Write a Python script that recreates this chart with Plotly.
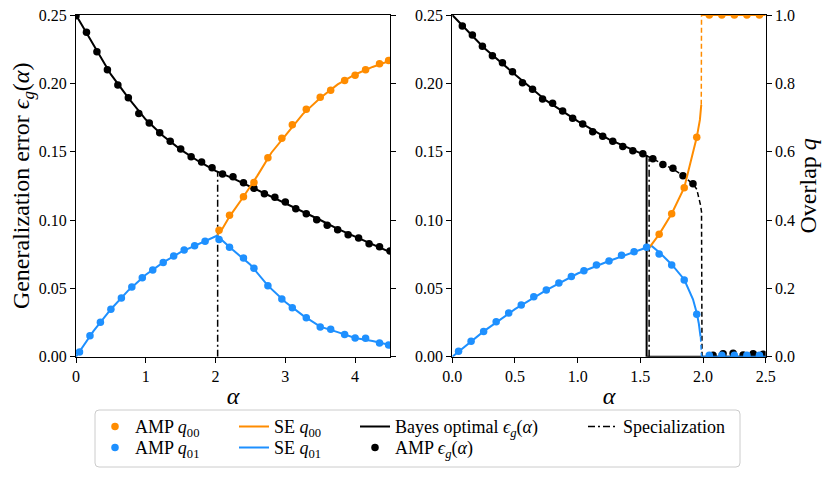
import plotly.graph_objects as go

W, H = 830, 477
OFF = 8  # page offset of the figure inside the browser window

# ---------------- data: left panel ----------------
amp_eps_left_alpha = [0, 0.15, 0.30, 0.45, 0.60, 0.75, 0.90, 1.05, 1.20, 1.35, 1.50, 1.65, 1.80, 1.95,
                      2.10, 2.25, 2.40, 2.55, 2.70, 2.85, 3.00, 3.15, 3.30, 3.45, 3.60, 3.75, 3.90,
                      4.05, 4.20, 4.35, 4.50]
amp_eps_left = [0.2495, 0.2373, 0.2232, 0.2100, 0.1988, 0.1895, 0.1780, 0.1710, 0.1639, 0.1576, 0.1520,
                0.1463, 0.1424, 0.1383, 0.1337, 0.1317, 0.1273, 0.1232, 0.1193, 0.1166, 0.1132, 0.1083,
                0.1046, 0.1002, 0.0961, 0.0929, 0.0893, 0.0868, 0.0827, 0.0805, 0.0773]

bayes_left_alpha = [0, 0.25, 0.5, 0.75, 1.0, 1.25, 1.5, 1.75, 2.0, 2.25, 2.5, 2.75, 3.0, 3.25, 3.5,
                    3.75, 4.0, 4.25, 4.5]
bayes_left = [0.25, 0.2285, 0.2065, 0.1893, 0.1735, 0.1615, 0.1515, 0.1432, 0.1360, 0.1305, 0.1245,
              0.1182, 0.1125, 0.1065, 0.1000, 0.0935, 0.0878, 0.0820, 0.0765]

amp_q01_left_alpha = [0.05, 0.2, 0.35, 0.5, 0.65, 0.8, 0.95, 1.1, 1.25, 1.4, 1.55, 1.7, 1.85, 2.05,
                      2.2, 2.4, 2.55, 2.75, 2.95, 3.1, 3.3, 3.5, 3.65, 3.85, 4.0, 4.15, 4.35, 4.48]
amp_q01_left = [0.014, 0.061, 0.101, 0.139, 0.172, 0.204, 0.231, 0.254, 0.276, 0.295, 0.312, 0.325,
                0.338, 0.343, 0.320, 0.289, 0.259, 0.208, 0.169, 0.143, 0.114, 0.087, 0.080, 0.065,
                0.055, 0.054, 0.040, 0.034]

amp_q00_left_alpha = [2.05, 2.2, 2.4, 2.55, 2.75, 2.95, 3.1, 3.3, 3.5, 3.65, 3.85, 4.0, 4.15, 4.35, 4.48]
amp_q00_left = [0.370, 0.414, 0.468, 0.510, 0.582, 0.639, 0.679, 0.724, 0.759, 0.780, 0.808, 0.824,
                0.840, 0.857, 0.867]

se_q01_left_alpha = [0, 0.25, 0.5, 0.75, 1.0, 1.25, 1.5, 1.75, 2.02, 2.25, 2.5, 2.75, 3.0, 3.25, 3.5,
                     3.75, 4.0, 4.25, 4.5]
se_q01_left = [0.0, 0.075, 0.139, 0.194, 0.240, 0.276, 0.306, 0.329, 0.354, 0.312, 0.269, 0.208, 0.160,
               0.121, 0.088, 0.072, 0.055, 0.046, 0.034]

se_q00_left_alpha = [2.02, 2.1, 2.2, 2.4, 2.6, 2.8, 3.0, 3.25, 3.5, 3.75, 4.0, 4.25, 4.5]
se_q00_left = [0.354, 0.375, 0.410, 0.468, 0.530, 0.597, 0.647, 0.710, 0.757, 0.797, 0.826, 0.848, 0.866]

spec_left_alpha = [2.03, 2.03]
spec_left_eps = [0.0, 0.1358]

# ---------------- data: right panel ----------------
amp_eps_right_alpha = [0.08, 0.16, 0.24, 0.32, 0.40, 0.48, 0.56, 0.64, 0.72, 0.80, 0.88, 0.96, 1.04,
                       1.12, 1.20, 1.28, 1.36, 1.44, 1.52, 1.60, 1.68, 1.76, 1.84, 1.92,
                       2.08, 2.16, 2.24, 2.32, 2.40, 2.48]
amp_eps_right = [0.2420, 0.2354, 0.2271, 0.2202, 0.2151, 0.2085, 0.2005, 0.1956, 0.1885, 0.1854,
                 0.1798, 0.1744, 0.1702, 0.1646, 0.1612, 0.1576, 0.1537, 0.1507, 0.1485, 0.1449,
                 0.1407, 0.1378, 0.1324, 0.1266,
                 0.0010, 0.0022, 0.0025, 0.0012, 0.0022, 0.0018]

bayes_right_alpha = [0, 0.25, 0.5, 0.75, 1.0, 1.25, 1.55, 1.55, 2.5]
bayes_right = [0.25, 0.2262, 0.2065, 0.1873, 0.1723, 0.1590, 0.1470, 0.0, 0.0]

meta_right_alpha = [1.55, 1.60, 1.68, 1.76, 1.84, 1.926, 1.95, 1.966, 1.980, 1.988, 1.992]
meta_right = [0.1470, 0.1447, 0.1410, 0.1373, 0.1325, 0.1257, 0.1225, 0.1171, 0.1110, 0.1060, 0.0]

spec_right_alpha = [1.57, 1.57]
spec_right_eps = [0.0, 0.145]

amp_q01_right_alpha = [0.05, 0.15, 0.25, 0.35, 0.45, 0.55, 0.65, 0.75, 0.85, 0.95, 1.05, 1.15, 1.25,
                       1.35, 1.45, 1.55, 1.65, 1.75, 1.85, 1.95, 2.05, 2.15, 2.25, 2.35, 2.45]
amp_q01_right = [0.0158, 0.045, 0.074, 0.1025, 0.128, 0.151, 0.1756, 0.195, 0.2157, 0.235, 0.2517,
                 0.268, 0.280, 0.2967, 0.3073, 0.320, 0.3005, 0.268, 0.2245, 0.124,
                 0.004, 0.004, 0.004, 0.004, 0.004]

amp_q00_right_alpha = [1.65, 1.75, 1.85, 1.95, 2.05, 2.15, 2.25, 2.35, 2.45]
amp_q00_right = [0.358, 0.4185, 0.4946, 0.642, 1.0, 1.0, 1.0, 1.0, 1.0]

se_q01_right_alpha = [0, 0.25, 0.5, 0.75, 1.0, 1.25, 1.5, 1.59, 1.65, 1.75, 1.85, 1.92, 1.95, 1.966, 1.980]
se_q01_right = [0.0, 0.074, 0.139, 0.195, 0.2435, 0.280, 0.313, 0.324, 0.306, 0.270, 0.226, 0.168,
                0.128, 0.098, 0.0585]
se_q01_jump_alpha = [1.980, 1.988]
se_q01_jump = [0.0585, 0.0]
se_q01_after_alpha = [1.988, 2.5]
se_q01_after = [0.0, 0.0]

se_q00_right_alpha = [1.567, 1.65, 1.75, 1.85, 1.95, 1.975, 1.986]
se_q00_right = [0.317, 0.358, 0.4185, 0.4946, 0.642, 0.693, 0.737]
se_q00_jump_alpha = [1.986, 1.988]
se_q00_jump = [0.737, 1.0]
se_q00_after_alpha = [1.988, 2.5]
se_q00_after = [1.0, 1.0]

# ---------------- styles ----------------
ORANGE = "#FF8C00"
BLUE = "#1E90FF"
BLACK = "black"
FONT = "Liberation Serif"
MS = 7.5
LW = 2
DASHDOT = "7px,3px,2px,3px"
DASHED = "5px,3px"

fig = go.Figure()

# left panel (these traces also provide the legend entries, one legend per entry)
fig.add_trace(go.Scatter(x=bayes_left_alpha, y=bayes_left, mode="lines", line=dict(color=BLACK, width=LW),
                         xaxis="x", yaxis="y", name="Bayes optimal <i>ϵ<sub>g</sub></i>(<i>α</i>)",
                         legend="legend5"))
fig.add_trace(go.Scatter(x=amp_eps_left_alpha, y=amp_eps_left, mode="markers",
                         marker=dict(color=BLACK, size=MS), xaxis="x", yaxis="y",
                         name="AMP <i>ϵ<sub>g</sub></i>(<i>α</i>)", legend="legend6"))
fig.add_trace(go.Scatter(x=spec_left_alpha, y=spec_left_eps, mode="lines",
                         line=dict(color=BLACK, width=1.5, dash=DASHDOT),
                         xaxis="x", yaxis="y", name="Specialization", legend="legend7"))
fig.add_trace(go.Scatter(x=se_q00_left_alpha, y=se_q00_left, mode="lines", line=dict(color=ORANGE, width=LW),
                         xaxis="x", yaxis="y2", name="SE <i>q</i><sub>00</sub>", legend="legend3"))
fig.add_trace(go.Scatter(x=se_q01_left_alpha, y=se_q01_left, mode="lines", line=dict(color=BLUE, width=LW),
                         xaxis="x", yaxis="y2", name="SE <i>q</i><sub>01</sub>", legend="legend4"))
fig.add_trace(go.Scatter(x=amp_q00_left_alpha, y=amp_q00_left, mode="markers",
                         marker=dict(color=ORANGE, size=MS), xaxis="x", yaxis="y2",
                         name="AMP <i>q</i><sub>00</sub>", legend="legend"))
fig.add_trace(go.Scatter(x=amp_q01_left_alpha, y=amp_q01_left, mode="markers",
                         marker=dict(color=BLUE, size=MS), xaxis="x", yaxis="y2",
                         name="AMP <i>q</i><sub>01</sub>", legend="legend2"))

# right panel
def add_r(x, y, yaxis, mode, color, dash=None, width=LW):
    kw = dict(x=x, y=y, xaxis="x2", yaxis=yaxis, mode=mode, showlegend=False, hoverinfo="x+y")
    if mode == "lines":
        kw["line"] = dict(color=color, width=width, dash=dash)
    else:
        kw["marker"] = dict(color=color, size=MS)
    fig.add_trace(go.Scatter(**kw))

add_r(bayes_right_alpha, bayes_right, "y3", "lines", BLACK)
add_r(meta_right_alpha, meta_right, "y3", "lines", BLACK, dash=DASHED, width=1.5)
add_r(spec_right_alpha, spec_right_eps, "y3", "lines", BLACK, dash=DASHDOT, width=1.5)
add_r(amp_eps_right_alpha, amp_eps_right, "y3", "markers", BLACK)
add_r(se_q01_right_alpha, se_q01_right, "y4", "lines", BLUE)
add_r(se_q01_jump_alpha, se_q01_jump, "y4", "lines", BLUE, dash=DASHED, width=1.5)
add_r(se_q01_after_alpha, se_q01_after, "y4", "lines", BLUE)
add_r(se_q00_right_alpha, se_q00_right, "y4", "lines", ORANGE)
add_r(se_q00_jump_alpha, se_q00_jump, "y4", "lines", ORANGE, dash=DASHED, width=1.5)
add_r(se_q00_after_alpha, se_q00_after, "y4", "lines", ORANGE)
add_r(amp_q00_right_alpha, amp_q00_right, "y4", "markers", ORANGE)
add_r(amp_q01_right_alpha, amp_q01_right, "y4", "markers", BLUE)

# ---------------- layout ----------------
def px_x(p):
    return (p - OFF) / W

def px_y(p):
    return 1 - (p - OFF) / H

ydom = [px_y(356.7), px_y(15)]
tickfont = dict(family=FONT, size=16, color="black")
titlefont = dict(family=FONT, size=24, color="black")

common = dict(showgrid=False, zeroline=False, showline=True, linecolor="black", linewidth=1,
              ticks="outside", ticklen=5, tickwidth=1, tickcolor="black", tickfont=tickfont,
              automargin=False, ticklabeloverflow="allow")

xa_title = dict(text="<i>α</i>", font=titlefont, standoff=3)
fig.update_layout(
    xaxis=dict(domain=[px_x(76), px_x(390)], range=[0, 4.5], tickvals=[0, 1, 2, 3, 4], anchor="y",
               mirror=True, title=xa_title, **common),
    yaxis=dict(domain=ydom, range=[0, 0.25], tickvals=[0, 0.05, 0.10, 0.15, 0.20, 0.25], tickformat=".2f",
               anchor="x",
               title=dict(text="Generalization error <i>ϵ<sub>g</sub></i>(<i>α</i>)", font=titlefont, standoff=9),
               **common),
    yaxis2=dict(range=[0, 1], tickvals=[0, 0.2, 0.4, 0.6, 0.8, 1.0], overlaying="y", side="right",
                anchor="x", showticklabels=False, **common),
    xaxis2=dict(domain=[px_x(452.3), px_x(765.7)], range=[0, 2.5], tickvals=[0, 0.5, 1.0, 1.5, 2.0, 2.5],
                tickformat=".1f", anchor="y3", mirror=True, title=xa_title, **common),
    yaxis3=dict(domain=ydom, range=[0, 0.25], tickvals=[0, 0.05, 0.10, 0.15, 0.20, 0.25], tickformat=".2f",
                anchor="x2", **common),
    yaxis4=dict(range=[0, 1], tickvals=[0, 0.2, 0.4, 0.6, 0.8, 1.0], tickformat=".1f", overlaying="y3",
                side="right", anchor="x2",
                title=dict(text="Overlap <i>q</i>", font=titlefont, standoff=2), **common),
)

legend_font = dict(family=FONT, size=18, color="black")
leg_common = dict(orientation="v", yanchor="middle", xanchor="left", bgcolor="rgba(0,0,0,0)",
                  borderwidth=0, font=legend_font, tracegroupgap=0, itemwidth=30)
ROW1, ROW2 = 426.7, 447.7
fig.update_layout(
    legend=dict(x=px_x(95), y=px_y(ROW1), **leg_common),
    legend2=dict(x=px_x(95), y=px_y(ROW2), **leg_common),
    legend3=dict(x=px_x(234), y=px_y(ROW1), **leg_common),
    legend4=dict(x=px_x(234), y=px_y(ROW2), **leg_common),
    legend5=dict(x=px_x(355), y=px_y(ROW1), **leg_common),
    legend6=dict(x=px_x(355), y=px_y(ROW2), **leg_common),
    legend7=dict(x=px_x(583), y=px_y(ROW1), **leg_common),
)

# legend frame (rounded rectangle) in paper coordinates
bx0, bx1, by0, by1, r = 95, 740, 410, 467, 4
path = (f"M {px_x(bx0 + r)},{px_y(by0)} L {px_x(bx1 - r)},{px_y(by0)} "
        f"Q {px_x(bx1)},{px_y(by0)} {px_x(bx1)},{px_y(by0 + r)} "
        f"L {px_x(bx1)},{px_y(by1 - r)} Q {px_x(bx1)},{px_y(by1)} {px_x(bx1 - r)},{px_y(by1)} "
        f"L {px_x(bx0 + r)},{px_y(by1)} Q {px_x(bx0)},{px_y(by1)} {px_x(bx0)},{px_y(by1 - r)} "
        f"L {px_x(bx0)},{px_y(by0 + r)} Q {px_x(bx0)},{px_y(by0)} {px_x(bx0 + r)},{px_y(by0)} Z")
fig.add_shape(type="path", path=path, xref="paper", yref="paper",
              line=dict(color="#cccccc", width=1), fillcolor="white", layer="above")

fig.update_layout(
    width=W, height=H, margin=dict(l=0, r=0, t=0, b=0),
    paper_bgcolor="white", plot_bgcolor="white", template="none",
    font=dict(family=FONT, color="black"), showlegend=True,
)

fig.write_html("out.html")
